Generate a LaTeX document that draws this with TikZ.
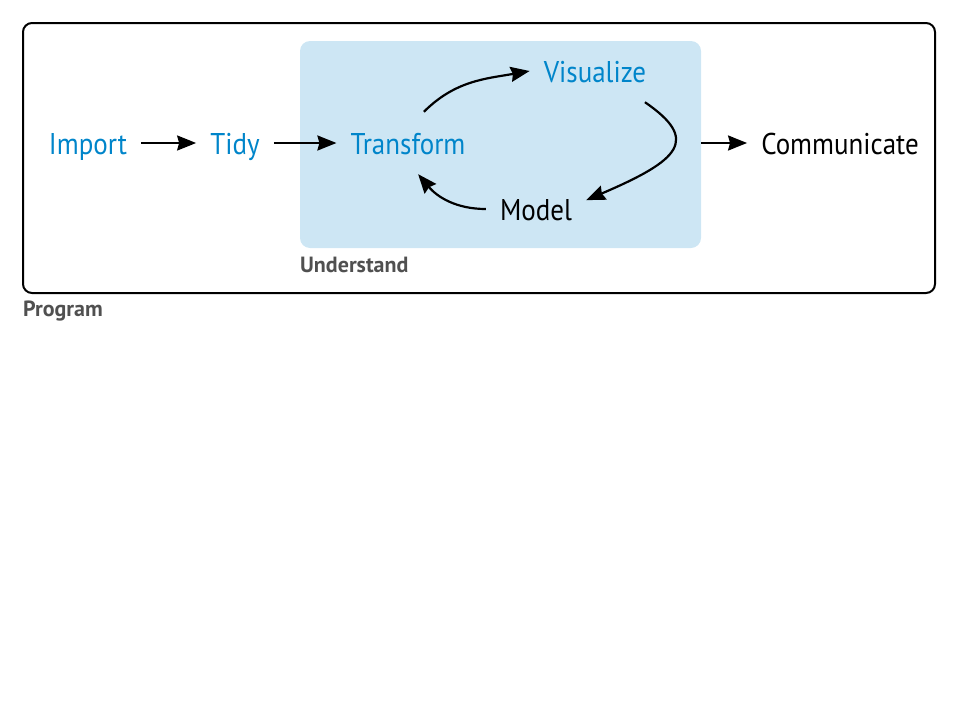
\documentclass[tikz,border=0pt]{standalone}
\usepackage{fontspec}
\setmainfont{PT Sans}
\newfontfamily\stepfont{PT Sans}[FakeStretch=0.9]
\usetikzlibrary{arrows.meta}
\definecolor{stepblue}{RGB}{0,133,202}
\definecolor{boxblue}{RGB}{205,230,244}
\definecolor{labelgray}{RGB}{80,80,80}
\begin{document}
\begin{tikzpicture}[x=1pt,y=1pt,
	arr/.style={line width=2.2pt,-{Stealth[length=19pt,width=15pt,inset=2pt]}},
	word/.style={anchor=base,font=\stepfont\fontsize{30}{34}\selectfont,inner xsep=14pt,inner ysep=20pt,text height=22pt,text depth=0pt},
	tag/.style={anchor=base west,inner sep=0pt,text=labelgray,font=\bfseries\fontsize{22}{26}\selectfont}]
	\useasboundingbox (0,0) rectangle (960,-720);
	\node[draw,line width=2pt,rounded corners=9pt,minimum width=912pt,minimum height=270pt] (program) at (479,-158) {};
	\node[fill=boxblue,rounded corners=10pt,minimum width=401pt,minimum height=207pt] (understand) at (500.5,-144.5) {};
	\node[tag] at (23,-316) {Program};
	\node[tag] at (300,-272) {Understand};
	\node[word,text=stepblue] (import) at (88,-154) {Import};
	\node[word,text=stepblue] (tidy) at (235,-154) {Tidy};
	\node[word,text=stepblue] (transform) at (408,-154) {Transform};
	\node[word,text=stepblue] (visualize) at (595,-82) {Visualize};
	\node[word] (model) at (536,-220) {Model};
	\node[word] (communicate) at (840,-154) {Communicate};
	\draw[arr] (import) -- (tidy);
	\draw[arr] (tidy) -- (transform);
	\draw[arr] (transform.63) to[out=45,in=190] (visualize.west);
	\draw[arr] (visualize.-32) .. controls (700,-140) and (680,-160) .. (model.10);
	\draw[arr] (model.west) to[out=180,in=-50] (transform.-72);
	\draw[arr] (understand.east |- communicate.west) -- (communicate.west);
\end{tikzpicture}
\end{document}
